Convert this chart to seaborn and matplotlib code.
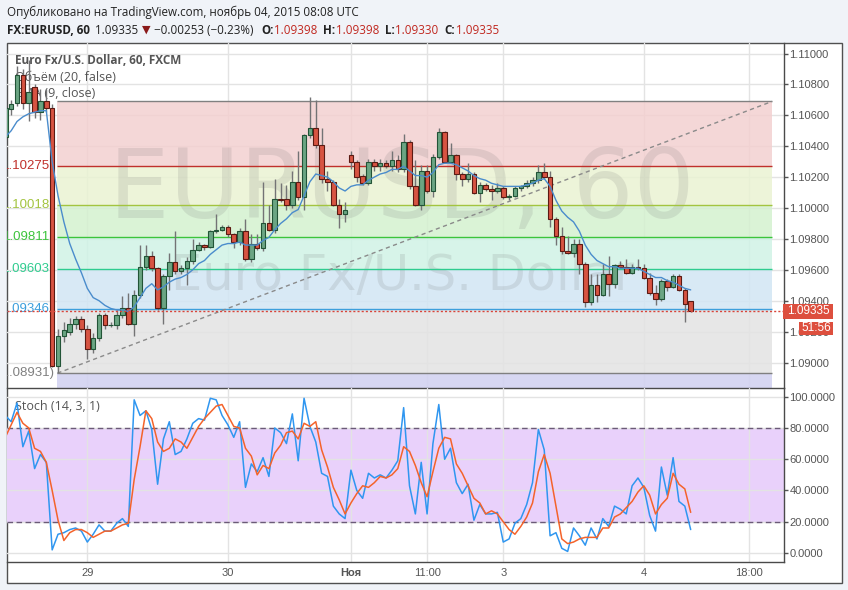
import numpy as np
import pandas as pd
import matplotlib
matplotlib.use("Agg")
import matplotlib.pyplot as plt
from matplotlib.patches import Rectangle
import seaborn as sns

# hourly bars, bar 0 = 29 Oct 00:00 (weekend hours skipped)
bar_first = -14
opens = [1.1046, 1.1064, 1.1068, 1.1086, 1.1068, 1.1078, 1.1062, 1.1069, 1.1065, 1.0898,
         1.0917, 1.0920, 1.0925, 1.0928, 1.0922, 1.0909, 1.0916, 1.0931, 1.0924, 1.0924,
         1.0931, 1.0935, 1.0925, 1.0944, 1.0962, 1.0969, 1.0961, 1.0935, 1.0956, 1.0965,
         1.0959, 1.0961, 1.0966, 1.0973, 1.0976, 1.0975, 1.0985, 1.0986, 1.0988, 1.0983,
         1.0978, 1.0985, 1.0967, 1.0977, 1.0974, 1.0990, 1.0986, 1.1006, 1.1006, 1.1002,
         1.1017, 1.1007, 1.1047, 1.1052, 1.1041, 1.1019, 1.1017, 1.1002, 1.0996, 1.1034,
         1.1030, 1.1021, 1.1016, 1.1030, 1.1027, 1.1029, 1.1027, 1.1031, 1.1025, 1.1043,
         1.1014, 1.1002, 1.1024, 1.1011, 1.1033, 1.1049, 1.1030, 1.1034, 1.1022, 1.1019,
         1.1022, 1.1010, 1.1015, 1.1012, 1.1011, 1.1013, 1.1007, 1.1008, 1.1013, 1.1014,
         1.1016, 1.1018, 1.1023, 1.1020, 1.0993, 1.0982, 1.0972, 1.0971, 1.0977, 1.0964,
         1.0939, 1.0950, 1.0944, 1.0957, 1.0951, 1.0963, 1.0962, 1.0958, 1.0962, 1.0961,
         1.0955, 1.0945, 1.0941, 1.0953, 1.0949, 1.0956, 1.0947, 1.09398]
highs = [1.1068, 1.1070, 1.1092, 1.1090, 1.1096, 1.1080, 1.1077, 1.1077, 1.1067, 1.0922,
         1.0926, 1.0929, 1.0930, 1.0930, 1.0924, 1.0919, 1.0932, 1.0932, 1.0926, 1.0934,
         1.0943, 1.0945, 1.0947, 1.0976, 1.0976, 1.0972, 1.0962, 1.0957, 1.0971, 1.0985,
         1.0963, 1.0968, 1.0980, 1.0978, 1.0977, 1.0986, 1.0996, 1.0989, 1.0989, 1.0984,
         1.0987, 1.0993, 1.0983, 1.0983, 1.1017, 1.1002, 1.1019, 1.1016, 1.1015, 1.1024,
         1.1037, 1.1048, 1.1072, 1.1070, 1.1052, 1.1024, 1.1018, 1.1006, 1.1004, 1.1037,
         1.1031, 1.1022, 1.1032, 1.1032, 1.1032, 1.1031, 1.1037, 1.1034, 1.1048, 1.1044,
         1.1031, 1.1028, 1.1028, 1.1035, 1.1052, 1.1050, 1.1042, 1.1035, 1.1023, 1.1029,
         1.1023, 1.1017, 1.1016, 1.1015, 1.1016, 1.1014, 1.1009, 1.1014, 1.1015, 1.1018,
         1.1020, 1.1028, 1.1029, 1.1024, 1.0994, 1.0988, 1.0982, 1.0980, 1.0980, 1.0965,
         1.0957, 1.0957, 1.0964, 1.0969, 1.0964, 1.0966, 1.0967, 1.0964, 1.0967, 1.0964,
         1.0958, 1.0950, 1.0954, 1.0954, 1.0957, 1.0957, 1.0948, 1.09398]
lows = [1.1044, 1.1060, 1.1066, 1.1064, 1.1056, 1.1058, 1.1057, 1.1062, 1.0897, 1.0893,
        1.0913, 1.0918, 1.0922, 1.0920, 1.0902, 1.0906, 1.0914, 1.0922, 1.0923, 1.0922,
        1.0929, 1.0924, 1.0917, 1.0942, 1.0960, 1.0959, 1.0934, 1.0925, 1.0947, 1.0957,
        1.0957, 1.0950, 1.0964, 1.0972, 1.0973, 1.0974, 1.0984, 1.0985, 1.0981, 1.0974,
        1.0976, 1.0966, 1.0965, 1.0973, 1.0972, 1.0985, 1.0984, 1.1004, 1.0999, 1.1000,
        1.1005, 1.0999, 1.1045, 1.1039, 1.1016, 1.1011, 1.1001, 1.0987, 1.0991, 1.1025,
        1.1017, 1.1015, 1.1015, 1.1024, 1.1024, 1.1026, 1.1024, 1.1023, 1.1023, 1.1012,
        1.1001, 1.0999, 1.1010, 1.1007, 1.1032, 1.1029, 1.1029, 1.1018, 1.1014, 1.1017,
        1.1009, 1.1004, 1.1011, 1.1005, 1.1010, 1.1006, 1.1005, 1.1007, 1.1011, 1.1013,
        1.1014, 1.1016, 1.1019, 1.0988, 1.0976, 1.0970, 1.0970, 1.0968, 1.0957, 1.0936,
        1.0937, 1.0939, 1.0943, 1.0943, 1.0948, 1.0961, 1.0957, 1.0957, 1.0960, 1.0954,
        1.0944, 1.0937, 1.0940, 1.0946, 1.0948, 1.0946, 1.0926, 1.09330]
closes = [1.1065, 1.1067, 1.1086, 1.1068, 1.1075, 1.1062, 1.1069, 1.1065, 1.0898, 1.0917,
          1.0921, 1.0925, 1.0928, 1.0922, 1.0909, 1.0916, 1.0931, 1.0924, 1.0924, 1.0931,
          1.0935, 1.0925, 1.0944, 1.0962, 1.0969, 1.0961, 1.0935, 1.0956, 1.0965, 1.0959,
          1.0961, 1.0966, 1.0973, 1.0976, 1.0975, 1.0985, 1.0986, 1.0988, 1.0983, 1.0978,
          1.0985, 1.0967, 1.0977, 1.0974, 1.0990, 1.0986, 1.1006, 1.1005, 1.1002, 1.1017,
          1.1007, 1.1047, 1.1052, 1.1041, 1.1019, 1.1017, 1.1002, 1.0996, 1.0999, 1.1030,
          1.1020, 1.1016, 1.1030, 1.1027, 1.1029, 1.1027, 1.1031, 1.1025, 1.1043, 1.1014,
          1.1002, 1.1024, 1.1011, 1.1033, 1.1049, 1.1030, 1.1034, 1.1022, 1.1019, 1.1022,
          1.1010, 1.1015, 1.1012, 1.1011, 1.1013, 1.1007, 1.1008, 1.1013, 1.1014, 1.1016,
          1.1018, 1.1023, 1.1020, 1.0993, 1.0982, 1.0972, 1.0971, 1.0977, 1.0964, 1.0939,
          1.0950, 1.0944, 1.0957, 1.0951, 1.0963, 1.0962, 1.0958, 1.0962, 1.0961, 1.0955,
          1.0945, 1.0941, 1.0953, 1.0949, 1.0956, 1.0947, 1.0938, 1.09335]
ema9 = [1.1046, 1.1050, 1.1056, 1.1059, 1.1061, 1.1062, 1.1063, 1.1063, 1.1030, 1.1008,
        1.0991, 1.0977, 1.0967, 1.0958, 1.0948, 1.0942, 1.0940, 1.0937, 1.0935, 1.0934,
        1.0934, 1.0933, 1.0936, 1.0942, 1.0948, 1.0951, 1.0947, 1.0949, 1.0952, 1.0954,
        1.0955, 1.0957, 1.0960, 1.0964, 1.0966, 1.0970, 1.0973, 1.0976, 1.0977, 1.0977,
        1.0978, 1.0976, 1.0976, 1.0976, 1.0979, 1.0981, 1.0986, 1.0990, 1.0993, 1.0997,
        1.0999, 1.1008, 1.1017, 1.1022, 1.1021, 1.1020, 1.1017, 1.1013, 1.1011, 1.1014,
        1.1015, 1.1015, 1.1018, 1.1020, 1.1022, 1.1023, 1.1025, 1.1025, 1.1027, 1.1024,
        1.1021, 1.1021, 1.1020, 1.1023, 1.1028, 1.1029, 1.1029, 1.1028, 1.1026, 1.1024,
        1.1021, 1.1019, 1.1018, 1.1016, 1.1015, 1.1014, 1.1014, 1.1014, 1.1014, 1.1015,
        1.1016, 1.1018, 1.1019, 1.1014, 1.1005, 1.0998, 1.0994, 1.0991, 1.0985, 1.0976,
        1.0970, 1.0966, 1.0964, 1.0962, 1.0962, 1.0961, 1.0961, 1.0961, 1.0961, 1.0959,
        1.0957, 1.0955, 1.0955, 1.0953, 1.0952, 1.0950, 1.0948, 1.0947]
stoch_k = [88, 84, 96, 68, 78, 54, 63, 58, 2, 12, 13, 15, 16, 14, 7, 12, 18, 14, 14, 19,
           22, 17, 98, 88, 91, 79, 44, 73, 84, 63, 65, 73, 83, 86, 85, 99, 98, 88, 82, 74,
           84, 42, 57, 52, 61, 49, 80, 77, 70, 89, 59, 99, 81, 71, 51, 49, 30, 25, 22, 53,
           40, 35, 51, 48, 50, 48, 53, 59, 93, 43, 25, 58, 25, 70, 95, 60, 67, 45, 38, 44,
           21, 31, 25, 25, 26, 7, 9, 19, 22, 31, 45, 79, 66, 11, 13, 3, 1, 16, 11, 5,
           16, 9, 22, 17, 30, 28, 25, 43, 48, 42, 24, 14, 55, 37, 61, 33, 30, 15]
stoch_d = [74, 82, 90, 83, 80, 67, 65, 58, 40, 21, 8, 13, 15, 15, 13, 10, 12, 14, 14, 16,
           18, 19, 47, 68, 91, 86, 71, 65, 67, 73, 71, 67, 74, 81, 86, 90, 94, 95, 88, 81,
           80, 67, 62, 50, 56, 54, 64, 69, 77, 78, 73, 83, 81, 84, 66, 55, 42, 34, 25, 32,
           38, 43, 42, 45, 49, 48, 50, 54, 68, 65, 56, 45, 36, 52, 67, 74, 73, 57, 51, 43,
           35, 32, 25, 27, 25, 20, 15, 12, 17, 23, 32, 52, 63, 51, 30, 9, 6, 7, 9, 10,
           10, 10, 16, 16, 23, 25, 29, 33, 39, 43, 37, 25, 31, 35, 51, 44, 41, 26]

fib_levels = [1.10690, 1.10275, 1.10018, 1.09811, 1.09603, 1.09346, 1.08931]
fib_texts = ["", "1.10275", "1.10018", "1.09811", "1.09603", "1.09346", "(1.08931)"]
fib_line_colors = ["#808080", "#c0302b", "#a3c440", "#3cc43c", "#2fcc8f", "#3c9fdc", "#808080"]
fib_band_colors = ["#f3d0d0", "#eaf3d3", "#d4f1cf", "#d0f3e6", "#d2e6f4", "#e3e3e3", "#d3d3f1"]

time_ticks = [0, 24, 45, 58, 71, 95, 113]
time_labels = ["29", "30", "Ноя", "11:00", "3", "4", "18:00"]
price_ticks = [1.090, 1.092, 1.094, 1.096, 1.098, 1.100, 1.102, 1.104, 1.106, 1.108, 1.110]
stoch_ticks = [0, 20, 40, 60, 80, 100]
last_price = 1.09335
countdown = "51:56"

df = pd.DataFrame({"open": opens, "high": highs, "low": lows, "close": closes,
                   "ema": ema9, "k": stoch_k, "d": stoch_d})
df["bar"] = np.arange(bar_first, bar_first + len(df))

sns.set_theme(style="white")
plt.rcParams["font.family"] = ["Liberation Sans", "DejaVu Sans"]

W, H = 848, 590
def fx(px):
    return px / W
def fy(py):
    return 1 - py / H

fig = plt.figure(figsize=(8.48, 5.9), dpi=100)
fig.patch.set_facecolor("#f0f3f8")
fig.add_artist(Rectangle((fx(7), fy(583)), fx(842) - fx(7), (583 - 43) / H,
                         transform=fig.transFigure, facecolor="white",
                         edgecolor="#505050", lw=1, zorder=-5))

ax = fig.add_axes([fx(7), fy(388), (784 - 7) / W, (388 - 43) / H])
ax2 = fig.add_axes([fx(7), fy(562), (784 - 7) / W, (562 - 388) / H], sharex=ax)
for a in (ax, ax2):
    a.set_facecolor("none")
    a.set_axisbelow(True)
    for s in ("left", "top"):
        a.spines[s].set_visible(False)
    for s in ("right", "bottom"):
        a.spines[s].set_color("#4a4a4a")
        a.spines[s].set_linewidth(1)
    a.grid(True, color="#e3e3e3", lw=1)

# ---- price pane ----
fib_start, fib_end = -5.1, 116.9
for i in range(len(fib_levels) - 1):
    ax.fill_between([fib_start, fib_end], fib_levels[i + 1], fib_levels[i],
                    color=fib_band_colors[i], alpha=0.85, lw=0, zorder=1)
ax.fill_between([fib_start, fib_end], 1.08835, fib_levels[-1],
                color=fib_band_colors[-1], alpha=0.9, lw=0, zorder=1)
for lvl, col, txt in zip(fib_levels, fib_line_colors, fib_texts):
    ax.hlines(lvl, fib_start, fib_end, color=col, lw=1, zorder=2)
    if txt:
        off = 2.2 if txt.startswith("(") else 5.4
        ax.annotate(txt, (fib_start, lvl), xytext=(-off, 0), textcoords="offset points",
                    ha="right", va="center", fontsize=9.5, color=col, zorder=2,
                    annotation_clip=False, clip_on=True)
ax.plot([fib_start, fib_end], [fib_levels[-1], fib_levels[0]], color="#8a8a8a",
        ls=(0, (3, 2.5)), lw=1, zorder=2)

wm = (0.45, 0.45, 0.45, 0.16)
ax.text(0.5085, 0.492, "EURUSD, 60", transform=ax.transAxes, ha="center", va="baseline",
        fontsize=69, color=wm, family="DejaVu Sans", zorder=1.5)
ax.text(0.509, 0.284, "Euro Fx/U.S. Dollar", transform=ax.transAxes, ha="center",
        va="baseline", fontsize=35.6, color=wm, family="DejaVu Sans", zorder=1.5)

ax.text(fx(15), fy(61), "Euro Fx/U.S. Dollar, 60, FXCM", transform=fig.transFigure,
        fontsize=8.5, fontweight="bold", color="#555555", va="center",
        family=["Open Sans", "DejaVu Sans"], zorder=2.5)
ax.text(fx(15), fy(77.5), "Объём (20, false)", transform=fig.transFigure,
        fontsize=9, color="#555555", va="center", family=["Open Sans", "DejaVu Sans"], zorder=2.5)
ax.text(fx(15), fy(94), "EMA (9, close)", transform=fig.transFigure,
        fontsize=9, color="#555555", va="center", family=["Open Sans", "DejaVu Sans"], zorder=2.5)

up = df["close"] >= df["open"]
body_lo = np.minimum(df["open"], df["close"])
body_h = np.maximum((df["close"] - df["open"]).abs(), 0.00004)
ax.vlines(df["bar"], df["low"], df["high"], color="#737375", lw=1, zorder=3)
ax.bar(df["bar"][up], body_h[up], bottom=body_lo[up], width=0.78, color="#6ba583",
       edgecolor="#225437", lw=0.8, zorder=4)
ax.bar(df["bar"][~up], body_h[~up], bottom=body_lo[~up], width=0.78, color="#d75442",
       edgecolor="#5b1a13", lw=0.8, zorder=4)
sns.lineplot(data=df, x="bar", y="ema", ax=ax, color="#4a8ccc", lw=1, zorder=5)
ax.axhline(last_price, color="#d9453b", ls=(0, (1.5, 1.5)), lw=1, zorder=6)

ax.set_xlim(-13.71, 118.93)
ax.set_ylim(1.08835, 1.11068)
ax.set_yticks(price_ticks)
ax.set_yticklabels([f"{v:.5f}" for v in price_ticks])
ax.yaxis.tick_right()
ax.tick_params(axis="y", right=True, left=False, length=3, width=1, color="#555555",
               labelsize=8, labelcolor="#555555", pad=1)
ax.tick_params(axis="x", bottom=False, labelbottom=False)
ax.set_xlabel("")
ax.set_ylabel("")

# ---- stochastic pane ----
ax2.axhspan(20, 80, color="#e9d1fb", lw=0, zorder=0.2)
for lvl in (20, 80):
    ax2.axhline(lvl, color="#6b5a78", ls=(0, (4, 2.5)), lw=1, zorder=2)
sns.lineplot(data=df, x="bar", y="k", ax=ax2, color="#2f96f0", lw=1.1, zorder=4)
sns.lineplot(data=df, x="bar", y="d", ax=ax2, color="#f4632b", lw=1.1, zorder=5)
ax2.text(fx(15), fy(406), "Stoch (14, 3, 1)", transform=fig.transFigure, fontsize=9,
         color="#555555", va="center", family=["Open Sans", "DejaVu Sans"], zorder=3)
ax2.set_ylim(-5.76, 105.57)
ax2.set_yticks(stoch_ticks)
ax2.set_yticklabels([f"{v:.4f}" for v in stoch_ticks])
ax2.yaxis.tick_right()
ax2.tick_params(axis="y", right=True, left=False, length=3, width=1, color="#555555",
                labelsize=8, labelcolor="#555555", pad=1)
ax2.set_xticks(time_ticks)
ax2.set_xticklabels(time_labels)
ax2.tick_params(axis="x", bottom=False, length=0, labelsize=8, labelcolor="#555555", pad=4)
for lab in ax2.get_xticklabels():
    if lab.get_text() == "Ноя":
        lab.set_fontweight("bold")
ax2.set_xlabel("")
ax2.set_ylabel("")

# ---- price tags on the scale ----
fig.add_artist(Rectangle((fx(783), fy(319)), (833 - 783) / W, 15 / H, transform=fig.transFigure,
                         facecolor="#dd4f3e", edgecolor="none", zorder=10))
fig.text(fx(808), fy(311.5), f"{last_price:.5f}", ha="center", va="center", fontsize=8.5,
         color="white", zorder=11)
fig.add_artist(Rectangle((fx(799), fy(335)), (833 - 799) / W, 13.5 / H, transform=fig.transFigure,
                         facecolor="#dd4f3e", edgecolor="none", zorder=10))
fig.text(fx(816), fy(328.3), countdown, ha="center", va="center", fontsize=8.5,
         color="white", zorder=11)

# ---- header ----
hdr = ["Open Sans", "DejaVu Sans"]
fig.text(fx(7), fy(12.5), "Опубликовано на TradingView.com, ноябрь 04, 2015 08:08 UTC",
         fontsize=8.4, color="#222222", va="center", family=hdr)
pieces = [("FX:EURUSD, 60", 5, "bold", "#222222"), ("1.09335", 4, "normal", "#222222"),
          ("▼", 4, "normal", "#8b1a1a"), ("−0.00253 (−0.23%)", 7, "normal", "#222222"),
          ("O:", 0.5, "bold", "#222222"), ("1.09398", 6, "normal", "#c0271f"),
          ("H:", 0.5, "bold", "#222222"), ("1.09398", 6, "normal", "#c0271f"),
          ("L:", 0.5, "bold", "#222222"), ("1.09330", 6, "normal", "#c0271f"),
          ("C:", 0.5, "bold", "#222222"), ("1.09335", 0, "normal", "#c0271f")]
renderer = fig.canvas.get_renderer()
xpos = 7
for txt, gap, wt, col in pieces:
    fam = ["DejaVu Sans"] if txt == "▼" else hdr
    size = 8 if txt == "▼" else 8.4
    t = fig.text(fx(xpos), fy(30), txt, fontsize=size, fontweight=wt, color=col,
                 va="center", family=fam)
    xpos = t.get_window_extent(renderer).x1 + gap

fig.savefig("out.png", dpi=100, facecolor=fig.get_facecolor())
